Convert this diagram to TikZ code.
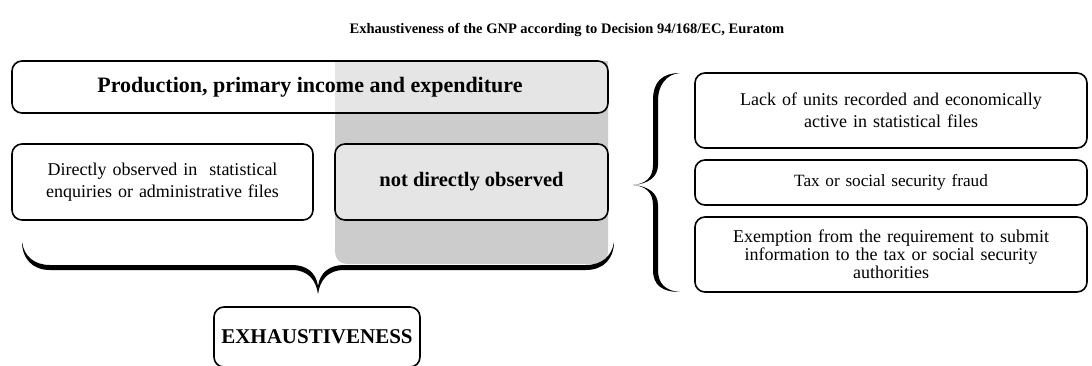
\documentclass[tikz,border=0pt]{standalone}
\usepackage{fontspec}
\setmainfont{Liberation Serif}
\begin{document}
\begin{tikzpicture}[x=1pt,y=-1pt,
  box/.style={draw=black, line width=1.6pt, rounded corners=10pt, fill=white, fill opacity=0.5, text opacity=1, align=center, inner sep=2pt},
  reg/.style={font=\fontsize{18}{22}\selectfont},
  bld/.style={font=\fontsize{21}{24}\selectfont\bfseries},
  bracefill/.style={fill=black, draw=none}]
\clip (0,0) rectangle (1092,365);
\fill[white] (0,0) rectangle (1092,365);
% grey band
\begin{scope}
  \clip (0,61) rectangle (1092,365);
  \fill[black!20, rounded corners=12pt] (335,30) rectangle (608,264);
\end{scope}
% title
\node[font=\fontsize{14.5}{17}\selectfont\bfseries] (title) at (567,30) {Exhaustiveness of the GNP according to Decision 94/168/EC, Euratom};
% boxes
\node[box, font=\fontsize{22}{26}\selectfont\bfseries, minimum width=596pt, minimum height=52pt] (prod) at (310,87) {Production, primary income and expenditure};
\node[box, reg, minimum width=301pt, minimum height=76pt, text width=295pt] (direct) at (162.5,182) {Directly observed in\ \ statistical\\enquiries or administrative files};
\node[box, font=\fontsize{20.5}{24}\selectfont\bfseries, minimum width=273pt, minimum height=76pt] (notdirect) at (471.5,182) {not directly observed};
\node[box, reg, minimum width=392pt, minimum height=75pt, text width=385pt] (lack) at (891,110.5) {Lack of units recorded and economically\\active in statistical files};
\node[box, reg, minimum width=392pt, minimum height=45pt, text width=385pt, font=\fontsize{17.2}{20}\selectfont] (fraud) at (891,182.5) {Tax or social security fraud};
\node[box, reg, minimum width=392pt, minimum height=75pt, text width=385pt, font=\fontsize{18}{18}\selectfont] (exempt) at (891,254.5) {Exemption from the requirement to submit\\information to the tax or social security\\authorities};
\node[box, font=\fontsize{21}{24}\selectfont\bfseries, minimum width=206pt, minimum height=60pt] (exh) at (317,337) {EXHAUSTIVENESS};
% bottom brace
\fill[bracefill] (22,242) .. controls (22,258) and (32,270) .. (50,270) -- (292,270)
  .. controls (308,270) and (316,280) .. (318,294)
  .. controls (320,280) and (328,270) .. (344,270) -- (586,270)
  .. controls (604,270) and (614,258) .. (614,242)
  .. controls (612,256) and (602,265) .. (586,265) -- (344,265)
  .. controls (330,265) and (320,272) .. (318,286)
  .. controls (316,272) and (306,265) .. (292,265) -- (50,265)
  .. controls (34,265) and (24,256) .. (22,242) -- cycle;
% right brace
\fill[bracefill] (680,73) .. controls (662,73) and (653,82) .. (653,100) -- (653,165)
  .. controls (653,178) and (645,184) .. (633,185)
  .. controls (645,186) and (653,192) .. (653,205) -- (653,270)
  .. controls (653,285) and (662,292) .. (680,292)
  .. controls (666,291) and (658,284) .. (658,270) -- (658,205)
  .. controls (658,193) and (648,186) .. (633,185)
  .. controls (648,184) and (658,177) .. (658,165) -- (658,100)
  .. controls (658,86) and (666,74) .. (680,73) -- cycle;
\end{tikzpicture}
\end{document}
